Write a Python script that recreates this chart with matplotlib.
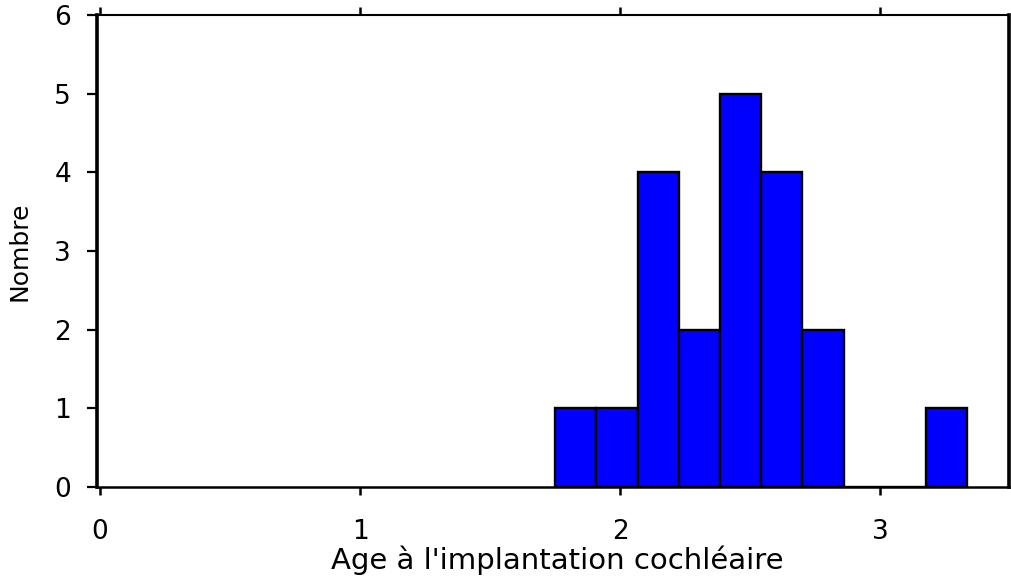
import matplotlib
matplotlib.use("Agg")
import matplotlib.pyplot as plt

# histogram data (ages in years)
bin_start = 1.75
bin_width = 0.1583
counts = [1, 1, 4, 2, 5, 4, 2, 0, 0, 1]
bin_left = [bin_start + i * bin_width for i in range(len(counts))]

x_ticks = [0, 1, 2, 3]
y_ticks = [0, 1, 2, 3, 4, 5, 6]

plt.rcParams['font.family'] = ['DejaVu Sans']

fig = plt.figure(figsize=(10.12, 5.77), dpi=100)
ax = fig.add_axes([0.0963, 0.156, 0.9007, 0.818])

ax.bar(bin_left, counts, width=bin_width, align='edge',
       color='#0000ff', edgecolor='black', linewidth=1.7, zorder=2)

ax.set_xlim(-0.01, 3.494)
ax.set_ylim(0, 6)
ax.set_xticks(x_ticks)
ax.set_yticks(y_ticks)

ax.spines['left'].set_linewidth(2.6)
ax.spines['right'].set_linewidth(2.6)
ax.spines['top'].set_linewidth(1.5)
ax.spines['bottom'].set_linewidth(1.8)
for sp in ax.spines.values():
    sp.set_zorder(3)

ax.tick_params(axis='x', direction='out', top=True, bottom=True,
               length=6, width=1.8, labelsize=19, pad=17)
ax.tick_params(axis='y', direction='out', left=True, right=False,
               length=7, width=1.6, labelsize=19, pad=12)

ax.set_xlabel("Age à l'implantation cochléaire", fontsize=21)
ax.xaxis.set_label_coords(0.504, -0.125)
ax.set_ylabel("Nombre", fontsize=18)
ax.yaxis.set_label_coords(-0.072, 0.5)

fig.savefig("out.png", dpi=100)
